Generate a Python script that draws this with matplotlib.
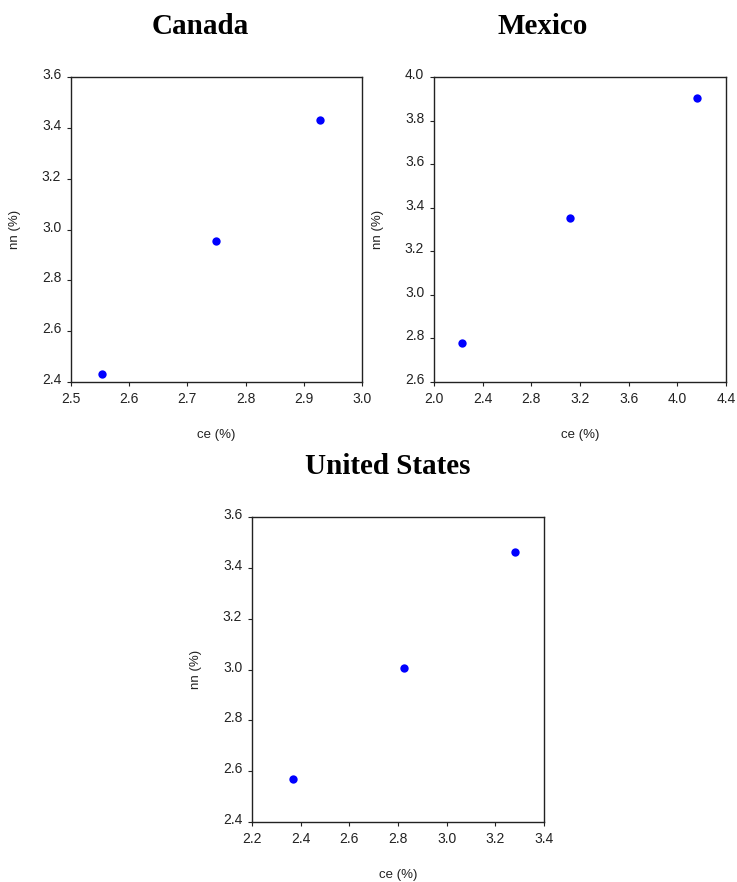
import numpy as np
import matplotlib.pyplot as plt
import matplotlib.transforms as mtransforms

# values
canada_ce = [2.554, 2.749, 2.927]
canada_nn = [2.433, 2.954, 3.431]
mexico_ce = [2.233, 3.120, 4.159]
mexico_nn = [2.778, 3.351, 3.902]
us_ce = [2.370, 2.825, 3.281]
us_nn = [2.568, 3.007, 3.464]

W, H = 737, 882
fig = plt.figure(figsize=(W / 100, H / 100), dpi=100)

def box(l, t, r, b):
    return [l / W, 1 - b / H, (r - l) / W, (b - t) / H]

panels = [
    ("Canada", canada_ce, canada_nn, (71, 77, 362, 382), (2.5, 3.0, 0.1), (2.4, 3.6, 0.2), 200, 27),
    ("Mexico", mexico_ce, mexico_nn, (434, 77, 726, 382), (2.0, 4.4, 0.4), (2.6, 4.0, 0.2), 543, 27),
    ("United States", us_ce, us_nn, (252, 517, 544, 822), (2.2, 3.4, 0.2), (2.4, 3.6, 0.2), 388, 466),
]

for name, x, y, rect, xr, yr, tx, ty in panels:
    ax = fig.add_axes(box(*rect))
    ax.scatter(x, y, s=36, color="#0000ff", zorder=3, linewidths=0)
    ax.set_xlim(xr[0], xr[1])
    ax.set_ylim(yr[0], yr[1])
    ax.set_xticks(np.arange(xr[0], xr[1] + 1e-9, xr[2]))
    ax.set_yticks(np.arange(yr[0], yr[1] + 1e-9, yr[2]))
    ax.xaxis.set_major_formatter(plt.FormatStrFormatter("%.1f"))
    ax.yaxis.set_major_formatter(plt.FormatStrFormatter("%.1f"))
    ax.tick_params(direction="out", length=3, width=0.8, labelsize=10,
                   colors="#222222", pad=4)
    for lab in ax.get_xticklabels() + ax.get_yticklabels():
        lab.set_fontfamily("Liberation Sans")
    # y labels sit a little above their tick in the reference
    off = mtransforms.ScaledTranslation(0, 3.5 / 100, fig.dpi_scale_trans)
    for lab in ax.get_yticklabels():
        lab.set_transform(lab.get_transform() + off)
    for sp in ax.spines.values():
        sp.set_linewidth(1.0)
        sp.set_color("#222222")
    ax.set_xlabel("ce (%)", fontsize=9.5, family="Liberation Sans", labelpad=17, color="#222222")
    ax.set_ylabel("nn (%)", fontsize=9.5, family="Liberation Sans", labelpad=15, color="#222222")
    fig.text(tx / W, 1 - ty / H, name, ha="center", va="center",
             fontsize=21, fontweight="bold", family="Liberation Serif")

fig.savefig("out.png", dpi=100)
